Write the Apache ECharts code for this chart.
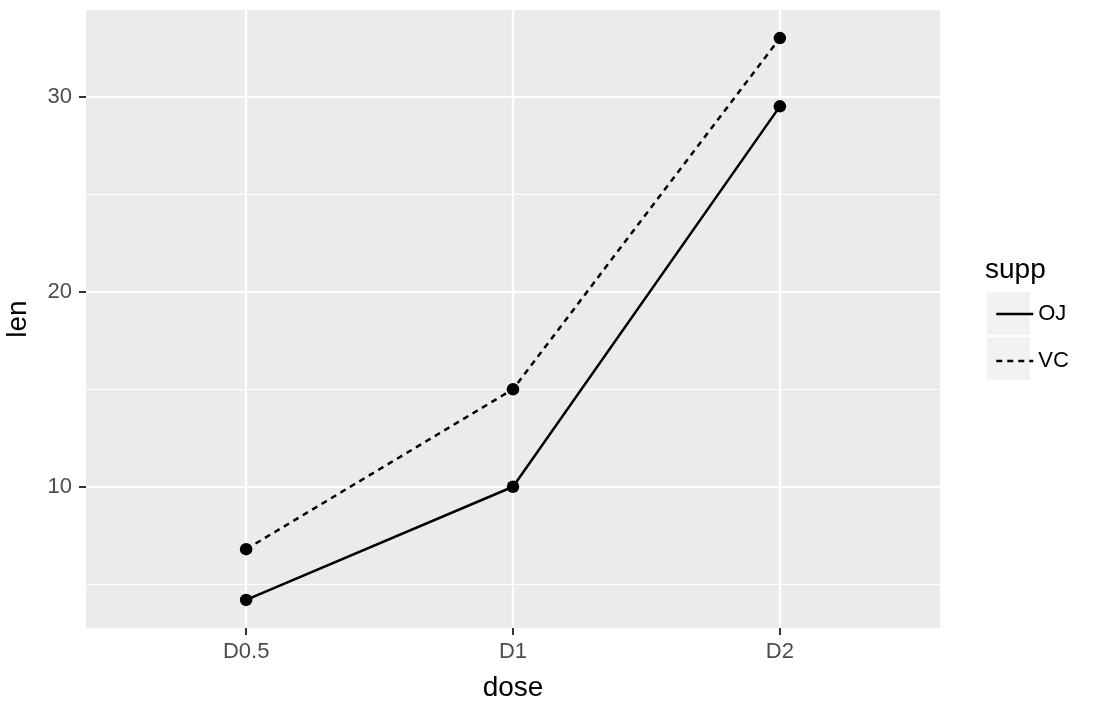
<!DOCTYPE html>
<html><head><meta charset="utf-8">
<script src="https://cdn.jsdelivr.net/npm/echarts@6/dist/echarts.min.js"></script>
<style>html,body{margin:0;padding:0;background:#fff}#c{width:1096px;height:706px}</style>
</head><body><div id="c"></div>
<script>
const categories = ['D0.5', 'D1', 'D2'];
const seriesNames = ['OJ', 'VC'];
const ojValues = [4.2, 10, 29.5];
const vcValues = [6.8, 15, 33];
const yTicks = [10, 20, 30];
const yMinorTicks = [5, 15, 25];
const xTicks = [0, 1, 2];

const FONT = '"Liberation Sans", Arial, sans-serif';
const toPts = vals => vals.map((v, i) => [i, v]);

const chart = echarts.init(document.getElementById('c'), null, {renderer: 'canvas'});
const yCommon = {type: 'value', min: 2.76, max: 34.44};
chart.setOption({
  animation: false,
  backgroundColor: '#ffffff',
  grid: {left: 86, right: 156, top: 10, bottom: 78, show: true, backgroundColor: '#EBEBEB', borderWidth: 0,
         containLabel: false, outerBoundsMode: 'none'},
  xAxis: {
    type: 'value', min: -0.6, max: 2.6,
    name: 'dose', nameLocation: 'middle', nameGap: 46,
    nameTextStyle: {fontFamily: FONT, fontSize: 28, color: '#000'},
    axisLine: {show: false, onZero: false},
    axisTick: {show: true, customValues: xTicks, length: 7, lineStyle: {color: '#333', width: 2}},
    axisLabel: {customValues: xTicks, formatter: v => categories[v], margin: 13, fontFamily: FONT, fontSize: 22, color: '#4D4D4D'},
    splitLine: {show: true, lineStyle: {color: '#fff', width: 2.2}}
  },
  yAxis: [
    Object.assign({}, yCommon, {
      name: 'len', nameLocation: 'middle', nameGap: 54, nameRotate: 90,
      nameTextStyle: {fontFamily: FONT, fontSize: 28, color: '#000'},
      axisLine: {show: false, onZero: false},
      axisTick: {show: true, customValues: yTicks, length: 7, lineStyle: {color: '#333', width: 2}},
      axisLabel: {customValues: yTicks, margin: 14, fontFamily: FONT, fontSize: 22, color: '#4D4D4D'},
      splitLine: {show: true, lineStyle: {color: '#fff', width: 2.2}}
    }),
    Object.assign({}, yCommon, {
      position: 'left',
      axisLine: {show: false, onZero: false},
      axisTick: {show: false, customValues: yMinorTicks},
      axisLabel: {show: false, customValues: yMinorTicks},
      splitLine: {show: true, lineStyle: {color: '#fff', width: 1.1}}
    })
  ],
  legend: {
    orient: 'vertical', left: 990, top: 298, itemWidth: 37, itemHeight: 20, itemGap: 25,
    data: seriesNames,
    itemStyle: {opacity: 0},
    lineStyle: {width: 2.5},
    textStyle: {fontFamily: FONT, fontSize: 22, color: '#000'}
  },
  graphic: [
    {type: 'rect', left: 987, top: 292, shape: {width: 43, height: 43}, style: {fill: '#F2F2F2'}, z: -1},
    {type: 'rect', left: 987, top: 337, shape: {width: 43, height: 43}, style: {fill: '#F2F2F2'}, z: -1},
    {type: 'text', left: 985, top: 256, style: {text: 'supp', font: '28px ' + FONT, fill: '#000'}}
  ],
  series: [
    {name: seriesNames[0], type: 'line', data: toPts(ojValues), symbol: 'none', lineStyle: {color: '#000', width: 2.5, type: 'solid'}, itemStyle: {color: '#000'}, z: 3},
    {name: seriesNames[1], type: 'line', data: toPts(vcValues), symbol: 'none', lineStyle: {color: '#000', width: 2.5, type: [6, 5]}, itemStyle: {color: '#000'}, z: 3},
    {type: 'scatter', data: toPts(ojValues).concat(toPts(vcValues)), symbol: 'circle', symbolSize: 12.5, itemStyle: {color: '#000', opacity: 1}, z: 4}
  ]
});
</script></body></html>
